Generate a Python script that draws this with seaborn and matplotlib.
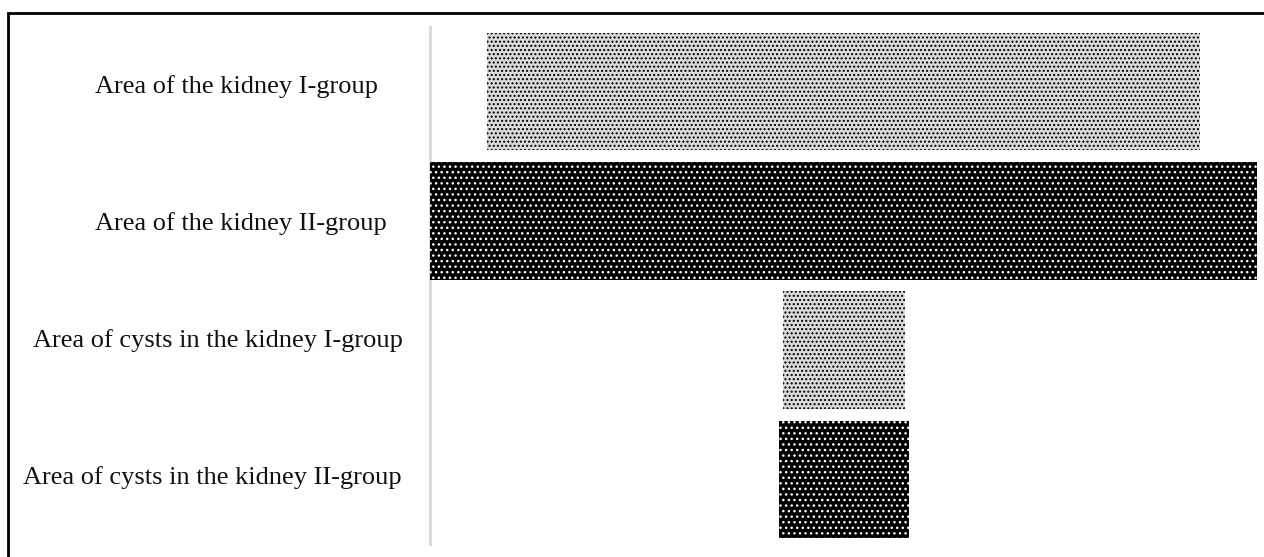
import numpy as np
import pandas as pd
import matplotlib.pyplot as plt
import matplotlib.transforms as mtransforms
from matplotlib.patches import Rectangle
import seaborn as sns

# Chart data (relative areas)
labels = [
    'Area of the kidney I-group',
    'Area of the kidney II-group',
    'Area of cysts in the kidney I-group',
    'Area of cysts in the kidney II-group',
]
areas = [713, 827, 122, 130]
groups = ['I', 'II', 'I', 'II']

df = pd.DataFrame({'label': labels, 'area': areas, 'group': groups})

# Styling per group
face = {'I': '#dcdcdc', 'II': '#000000'}
dots = {'I': '#000000', 'II': '#ffffff'}
hatch = {'I': '....', 'II': '...'}

sns.set_style('white')
plt.rcParams['font.family'] = ['Liberation Serif', 'DejaVu Serif']

W, H = 1264, 557
fig = plt.figure(figsize=(W / 100, H / 100), dpi=100)
ax = fig.add_axes([430 / W, 1 - 544 / H, 827 / W, 517 / H])

sns.barplot(data=df, x='area', y='label', hue='label',
            palette=[face[g] for g in groups], orient='h',
            width=0.91, saturation=1, legend=False, ax=ax)

# centre every bar to make the funnel
center = max(areas) / 2
for bar, val, grp in zip(ax.patches, areas, groups):
    bar.set_x(center - val / 2)
    bar.set_facecolor(face[grp])
    bar.set_edgecolor(dots[grp])
    bar.set_hatch(hatch[grp])
    bar.set_linewidth(0)
    bar.set_zorder(3)

ax.set_xlim(0, max(areas))
ax.set_ylim(3.5, -0.5)
ax.set_xticks([])
ax.set_yticks([])
ax.set_xlabel('')
ax.set_ylabel('')
for s in ['top', 'right', 'bottom']:
    ax.spines[s].set_visible(False)
ax.spines['left'].set_color('#d9d9d9')
ax.spines['left'].set_linewidth(2)
ax.spines['left'].set_zorder(1)

# category labels, placed individually as in the original
right_gap = [52, 43, 27, 28]
drop = [1.5, 9.5, -3, 4.5]
for i, lab in enumerate(labels):
    off = mtransforms.ScaledTranslation(-right_gap[i] / 100, -drop[i] / 100, fig.dpi_scale_trans)
    ax.text(0, i, lab, transform=ax.get_yaxis_transform() + off,
            ha='right', va='baseline', fontsize=19, color='#111111')

# outer frame (only top and left visible)
fig.patches.append(Rectangle((8 / W, -0.1), 1.2, 1 - 13 / H + 0.1,
                             transform=fig.transFigure, fill=False,
                             edgecolor='black', linewidth=2))

fig.savefig('out.png', dpi=100)
